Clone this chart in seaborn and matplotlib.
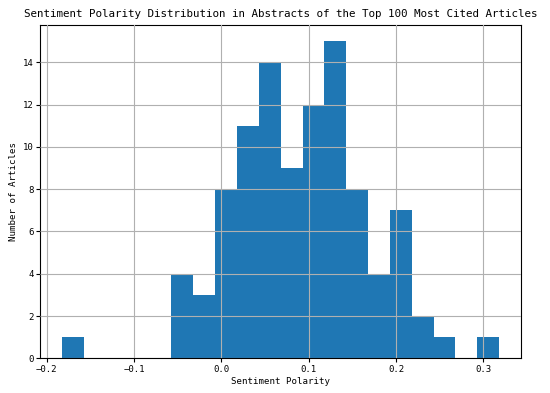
import numpy as np
import pandas as pd
import matplotlib
matplotlib.use("Agg")
import matplotlib.pyplot as plt
import seaborn as sns

# histogram: 20 equal bins between the min and max polarity
polarity_min = -0.182
polarity_max = 0.318
counts = [1, 0, 0, 0, 0, 4, 3, 8, 11, 14, 9, 12, 15, 8, 4, 7, 2, 1, 0, 1]

edges = np.linspace(polarity_min, polarity_max, len(counts) + 1)
centers = (edges[:-1] + edges[1:]) / 2
df = pd.DataFrame({"polarity": centers, "n": counts})

plt.rcParams['font.family'] = ['DejaVu Sans Mono']

fig = plt.figure(figsize=(5.5, 3.93), dpi=100)
ax = fig.add_axes([0.0736, 0.088, 0.8734, 0.848])

sns.histplot(data=df, x="polarity", weights="n", bins=list(edges), color="#1f77b4",
             alpha=1, linewidth=0, ax=ax)

ax.grid(True, color="#b0b0b0", linewidth=0.8)
ax.set_axisbelow(False)
for line in ax.get_xgridlines() + ax.get_ygridlines():
    line.set_zorder(1.5)

ax.set_title("Sentiment Polarity Distribution in Abstracts of the Top 100 Most Cited Articles",
             fontsize=7.85)
ax.set_xlabel("Sentiment Polarity", fontsize=6.6)
ax.set_ylabel("Number of Articles", fontsize=6.6)
ax.xaxis.set_label_coords(0.5, -0.07, transform=ax.transAxes)
ax.yaxis.set_label_coords(-0.057, 0.5, transform=ax.transAxes)
ax.xaxis.label.set_va("center")
ax.yaxis.label.set_va("center")
ax.tick_params(labelsize=6.5, pad=1.8, length=3)
ax.set_yticks(range(0, 16, 2))
ax.set_ylim(0, 15.75)

fig.savefig("out.png", dpi=100)
